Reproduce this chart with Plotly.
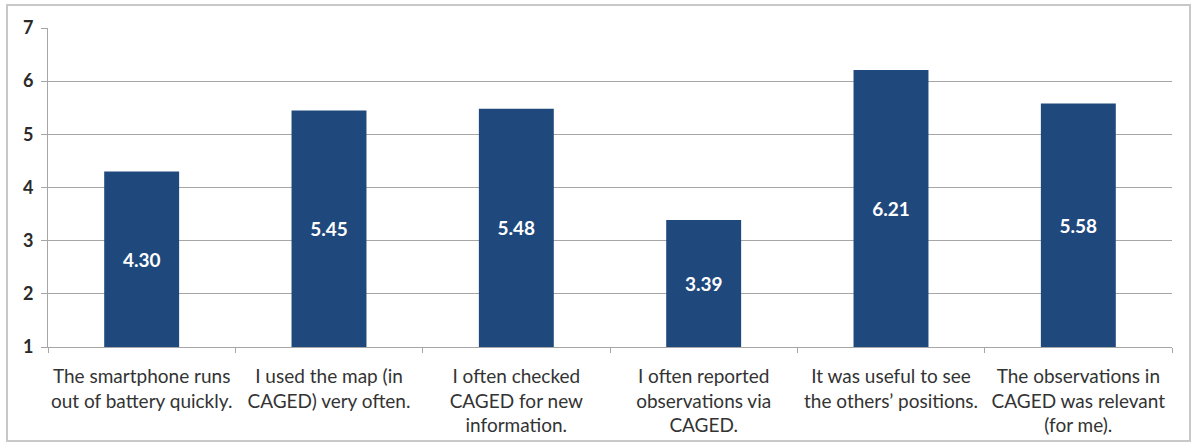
import plotly.graph_objects as go

categories = [
    "The smartphone runs<br>out of battery quickly.",
    "I used the map (in<br>CAGED) very often.",
    "I often checked<br>CAGED for new<br>information.",
    "I often reported<br>observations via<br>CAGED.",
    "It was useful to see<br>the others\u2019 positions.",
    "The observations in<br>CAGED was relevant<br>(for me).",
]
values = [4.30, 5.45, 5.48, 3.39, 6.21, 5.58]
axis_min = 1
y_ticks = [1, 2, 3, 4, 5, 6, 7]

FONT = "Lato, Open Sans, sans-serif"
GRID = "#a6a6a6"

fig = go.Figure(
    go.Bar(
        x=categories,
        y=[v - axis_min for v in values],
        base=axis_min,
        text=[f"{v:.2f}" for v in values],
        textposition="inside",
        insidetextanchor="middle",
        textangle=0,
        textfont=dict(family=FONT, size=19, color="white", weight="bold"),
        marker=dict(color="#1f497d", line=dict(width=0)),
        width=0.4,
        hovertext=[f"{v:.2f}" for v in values],
        hoverinfo="x+text",
    )
)

fig.update_layout(
    width=1192,
    height=447,
    margin=dict(l=48, r=20, t=28, b=100),
    paper_bgcolor="white",
    plot_bgcolor="white",
    showlegend=False,
    font=dict(family=FONT, size=15, color="#262626"),
    xaxis=dict(
        showline=True,
        linecolor=GRID,
        linewidth=1,
        ticks="outside",
        tickson="boundaries",
        ticklen=5,
        tickcolor=GRID,
        showgrid=False,
        tickangle=0,
        automargin=False,
        ticklabelstandoff=12,
        tickfont=dict(family=FONT, size=19, color="#333333"),
    ),
    yaxis=dict(
        range=[1, 7],
        tickvals=y_ticks,
        showline=True,
        linecolor=GRID,
        linewidth=1,
        ticks="outside",
        ticklen=6,
        tickcolor=GRID,
        showgrid=True,
        gridcolor=GRID,
        gridwidth=1,
        zeroline=False,
        automargin=False,
        ticklabelstandoff=4,
        tickfont=dict(family=FONT, size=18, color="#2a2a2a", weight="bold"),
    ),
    shapes=[
        dict(
            type="rect",
            xref="paper",
            yref="paper",
            x0=(7 - 48) / 1124,
            x1=(1190 - 48) / 1124,
            y0=(347 - 441) / 319,
            y1=(347 - 5) / 319,
            line=dict(color="#c8c8c8", width=2),
            fillcolor="rgba(0,0,0,0)",
            layer="below",
        )
    ],
)

fig.write_html("out.html")
